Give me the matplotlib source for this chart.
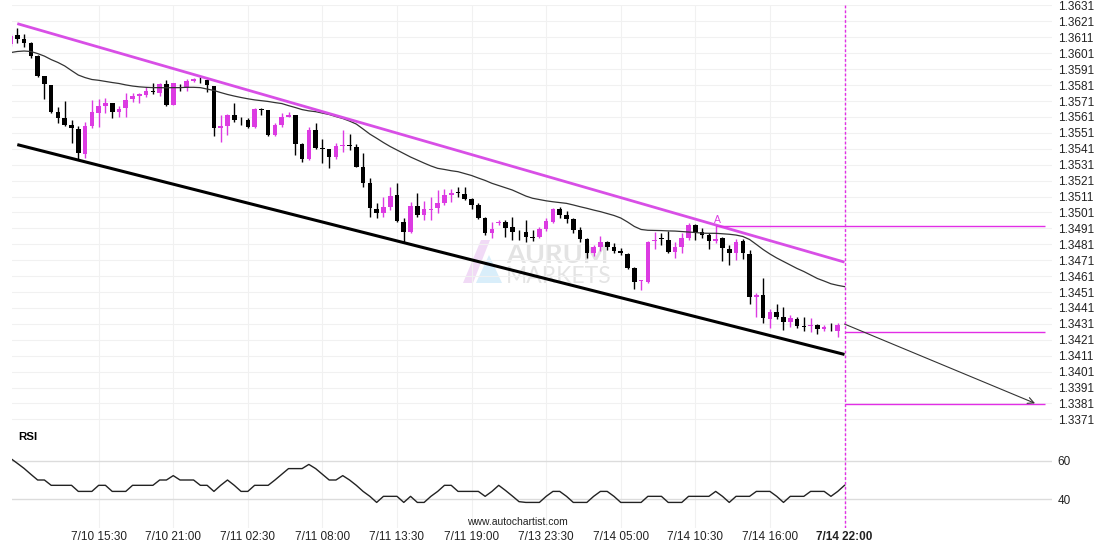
import numpy as np
import matplotlib
matplotlib.use('Agg')
import matplotlib.pyplot as plt
from matplotlib.patches import Polygon

plt.rcParams['font.family'] = ['Liberation Sans', 'DejaVu Sans']

# 30 minute candles, oldest first
opens = [1.36066, 1.36124, 1.36099, 1.36072, 1.35992, 1.35867, 1.35810, 1.35639, 1.35605, 1.35559,
         1.35534, 1.35377, 1.35553, 1.35636, 1.35678, 1.35695, 1.35643, 1.35668, 1.35720, 1.35743,
         1.35747, 1.35774, 1.35762, 1.35816, 1.35685, 1.35796, 1.35789, 1.35837, 1.35850, 1.35842,
         1.35804, 1.35538, 1.35553, 1.35622, 1.35599, 1.35590, 1.35548, 1.35659, 1.35653, 1.35496,
         1.35557, 1.35611, 1.35622, 1.35440, 1.35345, 1.35528, 1.35416, 1.35408, 1.35360, 1.35429,
         1.35433, 1.35423, 1.35293, 1.35197, 1.35030, 1.35004, 1.35046, 1.35119, 1.34952, 1.34889,
         1.35050, 1.34994, 1.35025, 1.35036, 1.35071, 1.35119, 1.35137, 1.35126, 1.35093, 1.35057,
         1.34973, 1.34883, 1.34945, 1.34952, 1.34917, 1.34889, 1.34889, 1.34858, 1.34854, 1.34904,
         1.34952, 1.35030, 1.34994, 1.34967, 1.34900, 1.34841, 1.34753, 1.34795, 1.34826, 1.34795,
         1.34770, 1.34749, 1.34663, 1.34580, 1.34575, 1.34831, 1.34848, 1.34837, 1.34763, 1.34791,
         1.34848, 1.34931, 1.34889, 1.34868, 1.34832, 1.34848, 1.34778, 1.34757, 1.34832, 1.34749,
         1.34481, 1.34491, 1.34341, 1.34383, 1.34355, 1.34324, 1.34341, 1.34297, 1.34297, 1.34303,
         1.34276, 1.34292, 1.34267]
highs = [1.36131, 1.36166, 1.36129, 1.36082, 1.35996, 1.35870, 1.35812, 1.35674, 1.35710, 1.35590,
         1.35553, 1.35580, 1.35716, 1.35724, 1.35727, 1.35700, 1.35678, 1.35758, 1.35758, 1.35762,
         1.35796, 1.35825, 1.35821, 1.35842, 1.35821, 1.35815, 1.35846, 1.35856, 1.35862, 1.35846,
         1.35806, 1.35622, 1.35628, 1.35699, 1.35611, 1.35601, 1.35664, 1.35664, 1.35655, 1.35570,
         1.35636, 1.35643, 1.35625, 1.35448, 1.35545, 1.35570, 1.35469, 1.35410, 1.35444, 1.35528,
         1.35501, 1.35440, 1.35381, 1.35224, 1.35067, 1.35109, 1.35172, 1.35197, 1.34973, 1.35077,
         1.35134, 1.35084, 1.35109, 1.35151, 1.35155, 1.35155, 1.35172, 1.35172, 1.35099, 1.35067,
         1.34983, 1.34952, 1.34962, 1.34962, 1.34983, 1.34900, 1.34962, 1.34900, 1.34917, 1.34973,
         1.35036, 1.35042, 1.35021, 1.34973, 1.34920, 1.34848, 1.34805, 1.34862, 1.34830, 1.34816,
         1.34785, 1.34757, 1.34669, 1.34586, 1.34831, 1.34889, 1.34883, 1.34895, 1.34826, 1.34883,
         1.34942, 1.34937, 1.34910, 1.34879, 1.34931, 1.34858, 1.34805, 1.34841, 1.34841, 1.34774,
         1.34502, 1.34596, 1.34402, 1.34435, 1.34414, 1.34366, 1.34355, 1.34351, 1.34345, 1.34309,
         1.34303, 1.34314, 1.34317]
lows = [1.36055, 1.36076, 1.36051, 1.35978, 1.35859, 1.35720, 1.35636, 1.35570, 1.35553, 1.35444,
        1.35339, 1.35350, 1.35538, 1.35548, 1.35636, 1.35601, 1.35611, 1.35607, 1.35705, 1.35695,
        1.35733, 1.35752, 1.35741, 1.35678, 1.35685, 1.35774, 1.35774, 1.35827, 1.35825, 1.35768,
        1.35490, 1.35454, 1.35496, 1.35580, 1.35557, 1.35538, 1.35538, 1.35622, 1.35490, 1.35490,
        1.35548, 1.35607, 1.35371, 1.35325, 1.35339, 1.35408, 1.35318, 1.35287, 1.35344, 1.35391,
        1.35402, 1.35293, 1.35168, 1.34983, 1.34973, 1.34983, 1.35025, 1.34952, 1.34820, 1.34879,
        1.34983, 1.34962, 1.34962, 1.35008, 1.35057, 1.35077, 1.35109, 1.35088, 1.35030, 1.34966,
        1.34868, 1.34848, 1.34931, 1.34858, 1.34837, 1.34837, 1.34826, 1.34832, 1.34848, 1.34895,
        1.34942, 1.34973, 1.34945, 1.34879, 1.34826, 1.34722, 1.34736, 1.34770, 1.34774, 1.34757,
        1.34743, 1.34653, 1.34527, 1.34523, 1.34569, 1.34778, 1.34805, 1.34753, 1.34722, 1.34757,
        1.34837, 1.34837, 1.34848, 1.34780, 1.34820, 1.34707, 1.34680, 1.34711, 1.34716, 1.34435,
        1.34355, 1.34314, 1.34282, 1.34341, 1.34272, 1.34292, 1.34282, 1.34267, 1.34261, 1.34247,
        1.34267, 1.34267, 1.34230]
closes = [1.36118, 1.36097, 1.36076, 1.35994, 1.35867, 1.35815, 1.35643, 1.35605, 1.35559, 1.35538,
          1.35381, 1.35553, 1.35643, 1.35678, 1.35695, 1.35643, 1.35659, 1.35716, 1.35741, 1.35752,
          1.35774, 1.35764, 1.35815, 1.35685, 1.35821, 1.35789, 1.35837, 1.35848, 1.35846, 1.35810,
          1.35538, 1.35553, 1.35622, 1.35590, 1.35595, 1.35548, 1.35659, 1.35655, 1.35496, 1.35557,
          1.35611, 1.35622, 1.35440, 1.35345, 1.35528, 1.35416, 1.35408, 1.35360, 1.35429, 1.35435,
          1.35427, 1.35297, 1.35197, 1.35036, 1.35004, 1.35046, 1.35113, 1.34958, 1.34889, 1.35050,
          1.34994, 1.35030, 1.35030, 1.35071, 1.35119, 1.35134, 1.35130, 1.35093, 1.35057, 1.34973,
          1.34879, 1.34904, 1.34952, 1.34914, 1.34889, 1.34885, 1.34858, 1.34851, 1.34904, 1.34958,
          1.35030, 1.34994, 1.34967, 1.34900, 1.34841, 1.34753, 1.34791, 1.34826, 1.34795, 1.34768,
          1.34753, 1.34659, 1.34575, 1.34586, 1.34826, 1.34837, 1.34841, 1.34763, 1.34791, 1.34848,
          1.34931, 1.34889, 1.34868, 1.34832, 1.34841, 1.34785, 1.34753, 1.34826, 1.34753, 1.34481,
          1.34491, 1.34345, 1.34383, 1.34355, 1.34324, 1.34345, 1.34299, 1.34292, 1.34303, 1.34276,
          1.34292, 1.34288, 1.34303]

# moving average and RSI run one bar further, up to the forecast time
ma_vals = [1.36014, 1.36021, 1.36024, 1.36021, 1.36008, 1.35992, 1.35970, 1.35952, 1.35930, 1.35901,
           1.35873, 1.35857, 1.35845, 1.35840, 1.35833, 1.35826, 1.35820, 1.35811, 1.35804, 1.35799,
           1.35796, 1.35794, 1.35794, 1.35793, 1.35794, 1.35794, 1.35796, 1.35796, 1.35794, 1.35785,
           1.35776, 1.35763, 1.35751, 1.35741, 1.35732, 1.35724, 1.35717, 1.35712, 1.35707, 1.35700,
           1.35694, 1.35681, 1.35669, 1.35656, 1.35648, 1.35643, 1.35634, 1.35625, 1.35612, 1.35600,
           1.35584, 1.35565, 1.35534, 1.35502, 1.35476, 1.35449, 1.35424, 1.35402, 1.35380, 1.35358,
           1.35339, 1.35320, 1.35302, 1.35287, 1.35280, 1.35272, 1.35266, 1.35254, 1.35242, 1.35226,
           1.35211, 1.35193, 1.35179, 1.35165, 1.35151, 1.35132, 1.35113, 1.35099, 1.35091, 1.35083,
           1.35077, 1.35072, 1.35067, 1.35057, 1.35046, 1.35036, 1.35025, 1.35015, 1.35003, 1.34991,
           1.34975, 1.34950, 1.34922, 1.34903, 1.34898, 1.34897, 1.34896, 1.34894, 1.34893, 1.34890,
           1.34887, 1.34884, 1.34880, 1.34879, 1.34879, 1.34876, 1.34873, 1.34868, 1.34859, 1.34840,
           1.34809, 1.34777, 1.34749, 1.34724, 1.34702, 1.34680, 1.34658, 1.34639, 1.34617, 1.34595,
           1.34579, 1.34562, 1.34552, 1.34544]
rsi_vals = [61.4, 58.8, 56.1, 53, 50, 50, 47.2, 47.2, 47.2, 47.2,
            44, 44, 44, 47.2, 47.2, 44, 44, 44, 47.2, 47.2,
            47.2, 47.2, 50, 50, 52.3, 50, 50, 50, 47.2, 47.2,
            44, 47.2, 50, 47.2, 44, 44, 47.2, 47.2, 47.2, 50,
            53, 56, 56, 56, 58.2, 56, 53, 50, 50, 52.3,
            50, 47.2, 44, 41.4, 38.2, 41.4, 41.4, 41.4, 38.2, 41.4,
            38.2, 38.2, 41.4, 44, 47.2, 47.2, 44, 44, 44, 44,
            41.4, 44, 47.2, 44.5, 41.6, 38.6, 38.2, 38.2, 38.2, 41.4,
            44, 44, 41.4, 38.2, 38.2, 38.2, 41.4, 44, 44, 41.4,
            38.2, 38.2, 38.2, 38.2, 41.4, 41.4, 41.4, 38.2, 38.2, 38.2,
            41.4, 41.4, 41.4, 41.4, 44, 41.4, 38.2, 41.4, 41.4, 41.4,
            44, 44, 44, 41.4, 38.2, 41.4, 41.4, 41.4, 44, 44,
            44, 41.4, 44, 47.2]

time_labels = ['7/10 15:30', '7/10 21:00', '7/11 02:30', '7/11 08:00', '7/11 13:30',
               '7/11 19:00', '7/13 23:30', '7/14 05:00', '7/14 10:30', '7/14 16:00']
label_bars = [13, 24, 35, 46, 57, 68, 79, 90, 101, 112]
now_label = '7/14 22:00'
now_bar = 123

upper_x, upper_y = [1, 123], [1.36196, 1.34698]
lower_x, lower_y = [1, 123], [1.35436, 1.34118]
level_a_bar, level_a = 104, 1.34925
last_level = 1.34256
target_level = 1.33806
fc_x, fc_y = [123, 151.1], [1.34309, 1.33811]

price_ticks = np.round(np.arange(1.3371, 1.36315, 0.001), 4)

PINK = '#dc3be2'
LINE_PINK = '#e22ee6'

fig = plt.figure(figsize=(11.1, 5.5), dpi=100)
ax = fig.add_axes([12 / 1110, 129 / 550, 1040 / 1110, 416 / 550])
ax_rsi = fig.add_axes([12 / 1110, 22 / 550, 1040 / 1110, 107 / 550], sharex=ax)

for a in (ax, ax_rsi):
    for s in a.spines.values():
        s.set_visible(False)
    a.yaxis.tick_right()
    a.tick_params(length=0, labelsize=8.5, labelcolor='#222222')
    a.tick_params(axis='y', pad=4)

# candles
xs = np.arange(len(opens))
o = np.array(opens)
c = np.array(closes)
col = np.where(c >= o, PINK, 'black')
ax.vlines(xs, lows, highs, colors=col, lw=1, zorder=3)
ax.bar(xs, np.maximum(np.abs(c - o), 0.00003), bottom=np.minimum(o, c),
       width=0.68, color=col, lw=0, zorder=3)

ax.plot(np.arange(len(ma_vals)), ma_vals, color='#333333', lw=0.9, zorder=4)

# channel
ax.plot(upper_x, upper_y, color='#d84fe6', lw=2, solid_capstyle='butt', zorder=5)
ax.plot(lower_x, lower_y, color='black', lw=2.2, solid_capstyle='butt', zorder=5)

# levels and forecast
ax.hlines(level_a, level_a_bar, 152.6, color=LINE_PINK, lw=1, zorder=5)
ax.text(level_a_bar + 0.3, level_a + 0.00035, 'A', color=PINK, fontsize=7.5,
        ha='center', va='center', zorder=6)
ax.hlines([last_level, target_level], now_bar, 152.6, color=LINE_PINK, lw=1, zorder=5)
ax.annotate('', xy=(fc_x[1], fc_y[1]), xytext=(fc_x[0], fc_y[0]),
            arrowprops=dict(arrowstyle='->', color='#333333', lw=0.8,
                            mutation_scale=11, shrinkA=0, shrinkB=0), zorder=6)

for a in (ax, ax_rsi):
    a.axvline(now_bar, color=LINE_PINK, lw=1, ls=(0, (2, 1.5)), zorder=6)

ax.set_ylim(1.33700, 1.36313)
ax.set_yticks(price_ticks)
ax.set_yticklabels([f'{v:.4f}' for v in price_ticks])
ax.set_xlim(0.22, 153.6)
ax.set_xticks(label_bars + [now_bar])
ax.tick_params(axis='x', labelbottom=False)
ax.grid(color='#f1f1f1', lw=0.8, zorder=0)

# watermark
tf = fig.transFigure
def fp(px, py):
    return (px / 1110, 1 - py / 550)
ax.add_patch(Polygon([fp(463, 283), fp(473, 283), fp(490, 240), fp(481, 240)],
                     closed=True, transform=tf, color='#f1daf6', lw=0, zorder=1))
ax.add_patch(Polygon([fp(476, 283), fp(502, 283), fp(489, 255)],
                     closed=True, transform=tf, color='#d9eefa', lw=0, zorder=1))
ax.text(*fp(506, 263), 'AURUM', transform=tf, family='Lato', weight='bold',
        fontsize=19.5, color='#e3e3e3', va='baseline', zorder=1)
ax.text(*fp(506, 283), 'MARKETS', transform=tf, family='Lato', weight='normal',
        fontsize=16.5, color='#e4e4e4', va='baseline', zorder=1)

# RSI panel
ax_rsi.plot(np.arange(len(rsi_vals)), rsi_vals, color='#222222', lw=1, zorder=3)
ax_rsi.set_ylim(24.74, 81.05)
ax_rsi.set_yticks([40, 60])
ax_rsi.grid(axis='y', color='#dcdcdc', lw=1)
ax_rsi.grid(axis='x', color='#f1f1f1', lw=0.8)
ax_rsi.set_xticklabels(time_labels + [now_label])
ax_rsi.tick_params(axis='x', pad=2)
ax_rsi.get_xticklabels()[-1].set_fontweight('bold')

fig.text(18 / 1110, 1 - 437 / 550, 'RSI', fontsize=8.2, weight='bold', va='center')
fig.text(517 / 1110, 1 - 522 / 550, 'www.autochartist.com', fontsize=7.5,
         ha='center', va='center', color='#222222')

fig.savefig('out.png', dpi=100)
